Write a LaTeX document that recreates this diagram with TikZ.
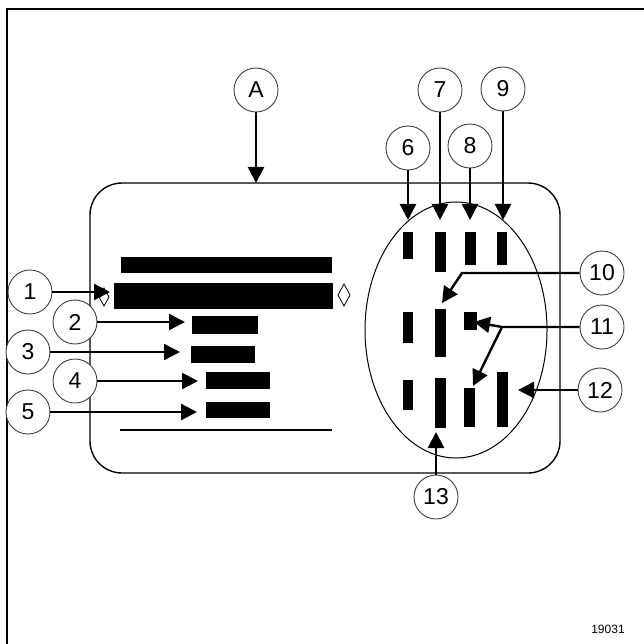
\documentclass[tikz,border=0pt]{standalone}
\usepackage{fontspec}
\setmainfont{Liberation Sans}
\usetikzlibrary{arrows.meta}
\tikzset{
  num/.style={circle, draw=black!75, fill=white, line width=0.9pt, minimum size=44pt, inner sep=0pt, font=\fontsize{23}{23}\selectfont},
  lead/.style={line width=2.4pt, -{Triangle[length=16pt,width=16pt]}}
}
\begin{document}
\begin{tikzpicture}[x=1pt, y=-1pt]
  \useasboundingbox (0,0) rectangle (644,644);
  \draw[line width=2.8pt] (7,644) -- (7,9) -- (644,9);
  \draw[line width=1.4pt, rounded corners=32pt] (90,183) rectangle (560,473);
  \draw[line width=1pt] (456,330) ellipse (91pt and 128pt);
  % display bars: left block, then the three rows inside the ellipse
  \foreach \xa/\ya/\xb/\yb in {121/257/332/273, 114/283/333/309, 192/316/258/334, 191/346/255/363, 206/372/270/389, 206/402/270/418,
    403/232/413/259, 435/232/446/272, 465/232/476/265, 497/232/507/265, 403/312/413/343, 435/309/446/357, 464/312/477/330,
    403/380/413/410, 435/378/446/428, 464/388/475/427, 497/372/508/427}
    \fill (\xa,\ya) rectangle (\xb,\yb);
  \draw[line width=1.2pt] (120,430) -- (332,430);
  \draw[line width=0.8pt] (99,297) -- (104,288) -- (109,297) -- (104,306) -- cycle;
  \draw[line width=0.8pt] (338,295) -- (344,284) -- (350,295) -- (344,306) -- cycle;
  \node[num] (cA) at (256,90) {A};
  \node[num] (c1) at (30,292) {1}; \node[num] (c2) at (75,322) {2}; \node[num] (c3) at (28,352) {3};
  \node[num] (c4) at (75,381) {4}; \node[num] (c5) at (28,412) {5};
  \node[num] (c6) at (408,148) {6}; \node[num] (c7) at (440,90) {7}; \node[num] (c8) at (470,146) {8}; \node[num] (c9) at (503,89) {9};
  \node[num] (c10) at (602,273) {10}; \node[num] (c11) at (602,327) {11}; \node[num] (c12) at (600,390) {12}; \node[num] (c13) at (436,497) {13};
  \coordinate (tA) at (256,183); \draw[lead] (cA) -- (tA);
  \foreach \n/\x/\y in {1/110/292, 2/185/322, 3/180/352, 4/198/381, 5/197/412, 6/408/220, 7/440/220, 8/470/220, 9/503/220, 12/518/390, 13/436/432}
    {\coordinate (t\n) at (\x,\y); \draw[lead] (c\n) -- (t\n);}
  \coordinate (b10) at (462,273); \coordinate (t10) at (442,303);
  \draw[lead] (c10) -- (b10) -- (t10);
  \coordinate (j11) at (502,327); \coordinate (t11a) at (474,322); \coordinate (t11b) at (473,386);
  \draw[lead] (c11) -- (j11) -- (t11a); \draw[lead] (j11) -- (t11b);
  \node[font=\fontsize{12}{12}\selectfont] (code) at (608,629) {19031};
\end{tikzpicture}
\end{document}
